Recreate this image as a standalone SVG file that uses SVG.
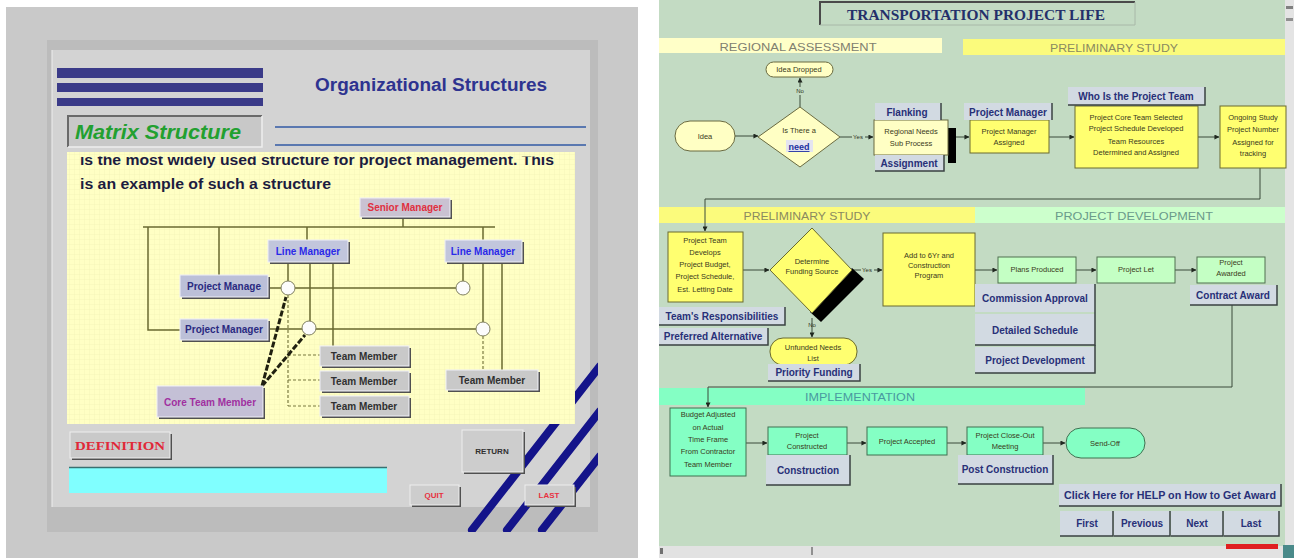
<svg xmlns="http://www.w3.org/2000/svg" width="1294" height="558" viewBox="0 0 1294 558">
<defs>
<style>
text{font-family:"Liberation Sans",Arial,sans-serif}
.serif{font-family:"Liberation Serif","Times New Roman",serif}
.lsh{fill:#505050}
.lbt{stroke:#f0f0f8;stroke-width:1}
.lt{font-size:10px;font-weight:bold;text-anchor:middle}
.oc{fill:none;stroke:#6a6a30;stroke-width:1.5}
.od{fill:none;stroke:#7a7a40;stroke-width:1.2;stroke-dasharray:3 2}
.ck{fill:none;stroke:#202010;stroke-width:3;stroke-dasharray:6 2}
.circ{fill:#fcfcfc;stroke:#808060;stroke-width:1}
.py{fill:#ffffc4;stroke:#6a6a40;stroke-width:1}
.by{fill:#ffff70;stroke:#6a6a30;stroke-width:1}
.pg{fill:#c4ffc4;stroke:#507050;stroke-width:1}
.mg{fill:#84ffc4;stroke:#407050;stroke-width:1}
.nt{font-size:7.5px;fill:#3a3a20;text-anchor:middle}
.btn{fill:#d2dae2}
.bsh{fill:none;stroke:#3a4242;stroke-width:1.5}
.bt{font-size:10px;font-weight:bold;fill:#283078;text-anchor:middle}
.cn{fill:none;stroke:#3a4a3a;stroke-width:1}
.sec{font-size:11px;text-anchor:middle}
.sl{font-size:6px;fill:#303020;text-anchor:middle}
.stripe{stroke:#14148a;stroke-width:8;stroke-linecap:round}
</style>
<marker id="ah" viewBox="0 0 6 6" refX="5.5" refY="3" markerWidth="5" markerHeight="5" orient="auto" markerUnits="userSpaceOnUse">
<path d="M0 0L6 3L0 6z" fill="#202820"/>
</marker>
<pattern id="grid" width="5" height="5" patternUnits="userSpaceOnUse">
<path d="M5 0V5H0" fill="none" stroke="#eeeeb0" stroke-width="0.6"/>
</pattern>
<clipPath id="txtclip"><rect x="67" y="156.5" width="508" height="60"/></clipPath>
<clipPath id="stripeclip"><rect x="440" y="360" width="158" height="172"/></clipPath>
<clipPath id="panelclip"><rect x="67" y="152" width="508" height="272"/></clipPath>
</defs>

<rect x="0" y="0" width="1294" height="558" fill="#ffffff"/>

<!-- ================= LEFT SCREEN ================= -->
<g id="left-screen">
<rect x="6" y="7" width="632" height="551" fill="#c9c9c9"/>
<rect x="47" y="40" width="551" height="492" fill="#bcbcbc"/>
<rect x="52" y="50" width="538" height="457" fill="#d3d3d3"/>
<line x1="52" y1="50" x2="52" y2="507" stroke="#eeeeee" stroke-width="1"/>

<g id="title-bars">
<rect x="57" y="68" width="206" height="10" fill="#3a3a88"/>
<rect x="57" y="83" width="206" height="9" fill="#3a3a88"/>
<rect x="57" y="98" width="206" height="8" fill="#3a3a88"/>
</g>
<text x="315" y="91" font-size="18" font-weight="bold" fill="#2e3390" textLength="232" lengthAdjust="spacingAndGlyphs">Organizational Structures</text>
<line x1="275" y1="127" x2="586" y2="127" stroke="#5a78b0" stroke-width="2"/>
<line x1="275" y1="145" x2="586" y2="145" stroke="#5a78b0" stroke-width="2"/>

<g id="matrix-structure">
<rect x="68" y="116" width="194" height="31" fill="#c8c8c8"/>
<path d="M68 147V116H262" fill="none" stroke="#6a6a6a" stroke-width="2"/>
<path d="M262 116V147H68" fill="none" stroke="#eeeeee" stroke-width="1.5"/>
<text x="75" y="139" font-size="21" font-weight="bold" font-style="italic" fill="#22a030" textLength="166" lengthAdjust="spacingAndGlyphs">Matrix Structure</text>
</g>

<!-- diagonal stripes -->
<g id="stripes" clip-path="url(#stripeclip)">
<line class="stripe" x1="472" y1="530" x2="600" y2="366"/>
<line class="stripe" x1="507" y1="530" x2="600" y2="411"/>
<line class="stripe" x1="542" y1="530" x2="600" y2="456"/>
</g>

<g id="content-panel">
<rect x="67" y="152" width="508" height="272" fill="#ffffc4"/>
<rect x="67" y="152" width="508" height="272" fill="url(#grid)"/>
<g clip-path="url(#txtclip)">
<text x="80" y="165" font-size="14.5" font-weight="bold" fill="#1c1c40" textLength="474" lengthAdjust="spacingAndGlyphs">is the most widely used structure for project management. This</text>
<text x="80" y="189" font-size="14.5" font-weight="bold" fill="#1c1c40" textLength="251" lengthAdjust="spacingAndGlyphs">is an example of such a structure</text>
</g>
</g>

<g clip-path="url(#panelclip)">
<g id="org-connectors">
<path class="oc" d="M403 217V227M143 227H495M148 227V330H180M219 227V275M307 227V240M483 227V322"/>
<path class="oc" d="M268 288H456M268 329H476"/>
<path class="oc" d="M288 262V281M310 262V321M333 262V346M463 262V281M502 262V370"/>
<path class="od" d="M288 295V406M483 336V370M288 355H320M288 380H320M288 406H320"/>
<path class="ck" d="M262 386L286 297M262 386L305 335"/>
<circle class="circ" cx="288" cy="288" r="7"/>
<circle class="circ" cx="463" cy="288" r="7"/>
<circle class="circ" cx="309" cy="328" r="7"/>
<circle class="circ" cx="483" cy="329" r="7"/>
</g>

<g id="n-senior-manager">
<rect class="lsh" x="362" y="200" width="90" height="19"/>
<rect class="lbt" x="360" y="198" width="90" height="19" fill="#cac2d2"/>
<text class="lt" x="405" y="211" fill="#e03040">Senior Manager</text>
</g>
<g id="n-line-manager-1">
<rect class="lsh" x="270" y="242" width="80" height="22"/>
<rect class="lbt" x="268" y="240" width="80" height="22" fill="#c2c6dc"/>
<text class="lt" x="308" y="255" fill="#2a2ae8">Line Manager</text>
</g>
<g id="n-line-manager-2">
<rect class="lsh" x="447" y="242" width="77" height="22"/>
<rect class="lbt" x="445" y="240" width="77" height="22" fill="#c2c6dc"/>
<text class="lt" x="483" y="255" fill="#2a2ae8">Line Manager</text>
</g>
<g id="n-project-manage">
<rect class="lsh" x="182" y="277" width="88" height="22"/>
<rect class="lbt" x="180" y="275" width="88" height="22" fill="#bcc0d8"/>
<text class="lt" x="224" y="290" fill="#2a2a80">Project Manage</text>
</g>
<g id="n-project-manager">
<rect class="lsh" x="182" y="321" width="88" height="21"/>
<rect class="lbt" x="180" y="319" width="88" height="21" fill="#bcc0d8"/>
<text class="lt" x="224" y="333" fill="#2a2a80">Project Manager</text>
</g>
<g id="n-team-member-1">
<rect class="lsh" x="322" y="348" width="89" height="20"/>
<rect class="lbt" x="320" y="346" width="89" height="20" fill="#c9c9c9"/>
<text class="lt" x="364" y="360" fill="#303030">Team Member</text>
</g>
<g id="n-team-member-2">
<rect class="lsh" x="322" y="373" width="89" height="20"/>
<rect class="lbt" x="320" y="371" width="89" height="20" fill="#c9c9c9"/>
<text class="lt" x="364" y="385" fill="#303030">Team Member</text>
</g>
<g id="n-team-member-3">
<rect class="lsh" x="322" y="398" width="89" height="20"/>
<rect class="lbt" x="320" y="396" width="89" height="20" fill="#c9c9c9"/>
<text class="lt" x="364" y="410" fill="#303030">Team Member</text>
</g>
<g id="n-team-member-4">
<rect class="lsh" x="448" y="372" width="92" height="20"/>
<rect class="lbt" x="446" y="370" width="92" height="20" fill="#c9c9c9"/>
<text class="lt" x="492" y="384" fill="#303030">Team Member</text>
</g>
<g id="n-core-team-member">
<rect class="lsh" x="159" y="388" width="106" height="31"/>
<rect class="lbt" x="157" y="386" width="106" height="31" fill="#c4c0d6"/>
<text class="lt" x="210" y="406" fill="#a030a0">Core Team Member</text>
</g>
</g>

<g id="b-definition">
<rect class="lsh" x="72" y="434" width="100" height="26"/>
<rect x="70" y="432" width="100" height="26" fill="#c9c9c9" stroke="#eeeeee" stroke-width="1"/>
<text class="serif" x="120" y="450" font-size="13" font-weight="bold" fill="#e02838" text-anchor="middle" textLength="90" lengthAdjust="spacingAndGlyphs">DEFINITION</text>
</g>
<g id="definition-field">
<rect x="69" y="467" width="318" height="26" fill="#80ffff"/>
<line x1="69" y1="467.5" x2="387" y2="467.5" stroke="#3a7070" stroke-width="1.5"/>
</g>
<g id="b-return">
<rect class="lsh" x="464" y="432" width="61" height="42"/>
<rect x="462" y="430" width="61" height="42" fill="#cdcdcd" stroke="#eeeeee" stroke-width="1"/>
<text x="492" y="454" font-size="8" font-weight="bold" fill="#303030" text-anchor="middle">RETURN</text>
</g>
<g id="b-quit">
<rect class="lsh" x="412" y="487" width="49" height="20"/>
<rect x="410" y="485" width="49" height="20" fill="#cdcdcd" stroke="#eeeeee" stroke-width="1"/>
<text x="434" y="498" font-size="8" font-weight="bold" fill="#e83040" text-anchor="middle">QUIT</text>
</g>
<g id="b-last">
<rect class="lsh" x="527" y="487" width="49" height="20"/>
<rect x="525" y="485" width="49" height="20" fill="#cdcdcd" stroke="#eeeeee" stroke-width="1"/>
<text x="549" y="498" font-size="8" font-weight="bold" fill="#e83040" text-anchor="middle">LAST</text>
</g>
</g>

<!-- ================= RIGHT SCREEN ================= -->
<g id="right-screen">
<rect x="659" y="0" width="626" height="546" fill="#c3dbc3"/>
<rect x="1285" y="0" width="9" height="558" fill="#e4e4e4"/>
<rect x="659" y="546" width="626" height="12" fill="#e2e2e2"/>
<rect x="660" y="548" width="3" height="6" fill="#707070"/>
<rect x="811" y="547" width="2" height="8" fill="#909090"/>
<rect x="1286" y="6" width="7" height="3" fill="#808080"/>
<rect x="1286" y="18" width="7" height="3" fill="#909090"/>
<rect x="1226" y="544" width="52" height="5" fill="#e02020"/>
<rect x="1283" y="545" width="11" height="13" fill="#4a8a8a"/>

<g id="title">
<rect x="820" y="2" width="315" height="23" fill="#c3dbc3"/>
<path d="M820 25V2H1135" fill="none" stroke="#4a4a4a" stroke-width="2"/>
<path d="M1135 2V25H820" fill="none" stroke="#a8b8a8" stroke-width="1"/>
<text class="serif" x="847" y="20" font-size="14" font-weight="bold" fill="#24306a" textLength="258" lengthAdjust="spacingAndGlyphs">TRANSPORTATION PROJECT LIFE</text>
</g>

<g id="sections">
<rect x="659" y="38" width="283" height="15" fill="#ffffc8"/>
<text class="sec" x="798" y="51" fill="#808070" textLength="157" lengthAdjust="spacingAndGlyphs">REGIONAL ASSESSMENT</text>
<rect x="963" y="39" width="322" height="16" fill="#fbfb7c"/>
<text class="sec" x="1114" y="52" fill="#8a8a60" textLength="128" lengthAdjust="spacingAndGlyphs">PRELIMINARY STUDY</text>
<rect x="659" y="207" width="316" height="16" fill="#fbfb7c"/>
<text class="sec" x="807" y="220" fill="#8a8a60" textLength="127" lengthAdjust="spacingAndGlyphs">PRELIMINARY STUDY</text>
<rect x="975" y="207" width="310" height="16" fill="#ccffcc"/>
<text class="sec" x="1134" y="220" fill="#6a9a8a" textLength="158" lengthAdjust="spacingAndGlyphs">PROJECT DEVELOPMENT</text>
<rect x="659" y="388" width="426" height="17" fill="#84ffc4"/>
<text class="sec" x="860" y="401" fill="#4a9aa0" textLength="110" lengthAdjust="spacingAndGlyphs">IMPLEMENTATION</text>
</g>

<g id="connectors">
<path class="cn" marker-end="url(#ah)" d="M735 136H758"/>
<path class="cn" marker-end="url(#ah)" d="M800 107V78"/>
<path class="cn" marker-end="url(#ah)" d="M840 137H873"/>
<path class="cn" marker-end="url(#ah)" d="M956 137H969"/>
<path class="cn" marker-end="url(#ah)" d="M1049 137H1074"/>
<path class="cn" marker-end="url(#ah)" d="M1198 137H1219"/>
<path class="cn" marker-end="url(#ah)" d="M1260 168V199H705V231"/>
<path class="cn" marker-end="url(#ah)" d="M743 270H769"/>
<path class="cn" marker-end="url(#ah)" d="M852 270H882"/>
<path class="cn" marker-end="url(#ah)" d="M812 318V337"/>
<path class="cn" marker-end="url(#ah)" d="M975 270H997"/>
<path class="cn" marker-end="url(#ah)" d="M1076 270H1096"/>
<path class="cn" marker-end="url(#ah)" d="M1175 270H1196"/>
<path class="cn" marker-end="url(#ah)" d="M1232 305V387H708V407"/>
<path class="cn" marker-end="url(#ah)" d="M746 443H767"/>
<path class="cn" marker-end="url(#ah)" d="M847 443H866"/>
<path class="cn" marker-end="url(#ah)" d="M947 443H966"/>
<path class="cn" marker-end="url(#ah)" d="M1043 443H1065"/>
<rect x="794" y="87" width="12" height="8" fill="#c3dbc3"/>
<text class="sl" x="800" y="93">No</text>
<rect x="852" y="133" width="13" height="8" fill="#c3dbc3"/>
<text class="sl" x="858" y="139">Yes</text>
<rect x="861" y="266" width="13" height="8" fill="#c3dbc3"/>
<text class="sl" x="867" y="272">Yes</text>
<text class="sl" x="812" y="327">No</text>
</g>

<g id="n-idea"><rect class="py" x="675" y="121" width="60" height="30" rx="15"/><text class="nt" x="705" y="139">Idea</text></g>
<g id="n-idea-dropped"><rect class="py" x="766" y="62" width="67" height="15" rx="7.5"/><text class="nt" x="799" y="72">Idea Dropped</text></g>
<g id="n-need">
<polygon class="py" points="800,107 840,137 800,167 758,137"/>
<text class="nt" x="799" y="133">Is There a</text>
<rect x="786" y="140" width="27" height="12" fill="#e4e4f0"/>
<text x="799" y="150" font-size="9" font-weight="bold" fill="#2030a0" text-anchor="middle" text-decoration="underline">need</text>
</g>
<g id="n-regional-needs">
<rect x="948" y="128" width="8" height="35" fill="#000000"/>
<rect class="py" x="874" y="120" width="74" height="35"/>
<text class="nt" x="911" y="134">Regional Needs</text>
<text class="nt" x="911" y="146">Sub Process</text>
</g>
<g id="n-pm-assigned">
<rect class="by" x="970" y="120" width="79" height="33"/>
<text class="nt" x="1009" y="134">Project Manager</text>
<text class="nt" x="1009" y="145">Assigned</text>
</g>
<g id="n-core-team">
<rect class="by" x="1075" y="106" width="123" height="62"/>
<text class="nt" x="1136" y="120">Project Core Team Selected</text>
<text class="nt" x="1136" y="131">Project Schedule Developed</text>
<text class="nt" x="1136" y="144">Team Resources</text>
<text class="nt" x="1136" y="155">Determined and Assigned</text>
</g>
<g id="n-ongoing-study">
<rect class="by" x="1220" y="106" width="66" height="62"/>
<text class="nt" x="1253" y="120">Ongoing Study</text>
<text class="nt" x="1253" y="132">Project Number</text>
<text class="nt" x="1253" y="145">Assigned for</text>
<text class="nt" x="1253" y="156">tracking</text>
</g>

<g id="n-project-team">
<rect class="by" x="668" y="232" width="75" height="70"/>
<text class="nt" x="705" y="243">Project Team</text>
<text class="nt" x="705" y="255">Develops</text>
<text class="nt" x="705" y="267">Project Budget,</text>
<text class="nt" x="705" y="279">Project Schedule,</text>
<text class="nt" x="705" y="292">Est. Letting Date</text>
</g>
<g id="n-funding">
<polygon points="852,268 864,279 821,322 810,312" fill="#000000"/>
<polygon class="by" points="812,228 852,270 812,313 770,270"/>
<text class="nt" x="812" y="264">Determine</text>
<text class="nt" x="812" y="274">Funding Source</text>
</g>
<g id="n-unfunded">
<rect class="by" x="770" y="338" width="87" height="27" rx="13"/>
<text class="nt" x="813" y="350">Unfunded Needs</text>
<text class="nt" x="813" y="361">List</text>
</g>
<g id="n-add-program">
<rect class="by" x="883" y="233" width="92" height="73"/>
<text class="nt" x="929" y="258">Add to 6Yr and</text>
<text class="nt" x="929" y="268">Construction</text>
<text class="nt" x="929" y="278">Program</text>
</g>
<g id="n-plans-produced"><rect class="pg" x="998" y="257" width="78" height="26"/><text class="nt" x="1037" y="272">Plans Produced</text></g>
<g id="n-project-let"><rect class="pg" x="1097" y="257" width="78" height="26"/><text class="nt" x="1136" y="272">Project Let</text></g>
<g id="n-project-awarded"><rect class="pg" x="1197" y="257" width="68" height="26"/><text class="nt" x="1231" y="265">Project</text><text class="nt" x="1231" y="276">Awarded</text></g>

<g id="n-budget">
<rect class="mg" x="670" y="408" width="76" height="68"/>
<text class="nt" x="708" y="417">Budget Adjusted</text>
<text class="nt" x="708" y="430">on Actual</text>
<text class="nt" x="708" y="442">Time Frame</text>
<text class="nt" x="708" y="454">From Contractor</text>
<text class="nt" x="708" y="467">Team Member</text>
</g>
<g id="n-constructed"><rect class="mg" x="768" y="427" width="79" height="28"/><text class="nt" x="807" y="438">Project</text><text class="nt" x="807" y="449">Constructed</text></g>
<g id="n-accepted"><rect class="mg" x="867" y="427" width="80" height="28"/><text class="nt" x="907" y="444">Project Accepted</text></g>
<g id="n-closeout"><rect class="mg" x="967" y="427" width="76" height="28"/><text class="nt" x="1005" y="438">Project Close-Out</text><text class="nt" x="1005" y="449">Meeting</text></g>
<g id="n-sendoff"><rect class="mg" x="1066" y="428" width="79" height="30" rx="15"/><text class="nt" x="1105" y="446">Send-Off</text></g>

<!-- link buttons -->
<g id="b-flanking"><rect class="btn" x="875" y="103" width="66" height="17"/><path class="bsh" d="M941 103V120"/><text class="bt" x="907" y="116">Flanking</text></g>
<g id="b-assignment"><rect class="btn" x="875" y="155" width="69" height="16"/><path class="bsh" d="M944 155V171H875"/><text class="bt" x="909" y="167">Assignment</text></g>
<g id="b-project-manager"><rect class="btn" x="964" y="103" width="88" height="17"/><path class="bsh" d="M1052 103V120"/><text class="bt" x="1008" y="116">Project Manager</text></g>
<g id="b-who-team"><rect class="btn" x="1068" y="87" width="137" height="18"/><path class="bsh" d="M1205 87V105H1068"/><text class="bt" x="1136" y="100">Who Is the Project Team</text></g>
<g id="b-team-resp"><rect class="btn" x="659" y="307" width="126" height="18"/><path class="bsh" d="M785 307V325H659"/><text class="bt" x="722" y="320">Team's Responsibilities</text></g>
<g id="b-preferred"><rect class="btn" x="659" y="328" width="109" height="17"/><path class="bsh" d="M768 328V345H659"/><text class="bt" x="713" y="340">Preferred Alternative</text></g>
<g id="b-priority"><rect class="btn" x="768" y="364" width="92" height="17"/><path class="bsh" d="M860 364V381H768"/><text class="bt" x="814" y="376">Priority Funding</text></g>
<g id="b-commission"><rect class="btn" x="975" y="284" width="120" height="28"/><path class="bsh" d="M1095 284V312"/><text class="bt" x="1035" y="302">Commission Approval</text></g>
<g id="b-detailed"><rect class="btn" x="975" y="314" width="120" height="31"/><path class="bsh" d="M1095 312V345H975"/><text class="bt" x="1035" y="334">Detailed Schedule</text></g>
<g id="b-project-dev"><rect class="btn" x="975" y="347" width="120" height="26"/><path class="bsh" d="M1095 345V373H975"/><text class="bt" x="1035" y="364">Project Development</text></g>
<g id="b-contract-award"><rect class="btn" x="1190" y="285" width="87" height="20"/><path class="bsh" d="M1277 285V305H1190"/><text class="bt" x="1233" y="299">Contract Award</text></g>
<g id="b-construction"><rect class="btn" x="766" y="455" width="84" height="30"/><path class="bsh" d="M850 455V485H766"/><text class="bt" x="808" y="474">Construction</text></g>
<g id="b-post-construction"><rect class="btn" x="958" y="455" width="95" height="29"/><path class="bsh" d="M1053 455V484H958"/><text class="bt" x="1005" y="473">Post Construction</text></g>
<g id="b-help"><rect class="btn" x="1059" y="484" width="222" height="22"/><path class="bsh" d="M1281 484V506H1059"/><text class="bt" x="1170" y="499" textLength="212" lengthAdjust="spacingAndGlyphs">Click Here for HELP on How to Get Award</text></g>
<g id="b-first"><rect class="btn" x="1060" y="511" width="53" height="25"/><path class="bsh" d="M1113 511V536H1060"/><text class="bt" x="1087" y="527">First</text></g>
<g id="b-previous"><rect class="btn" x="1114" y="511" width="56" height="25"/><path class="bsh" d="M1170 511V536H1114"/><text class="bt" x="1142" y="527">Previous</text></g>
<g id="b-next"><rect class="btn" x="1171" y="511" width="52" height="25"/><path class="bsh" d="M1223 511V536H1171"/><text class="bt" x="1197" y="527">Next</text></g>
<g id="b-last2"><rect class="btn" x="1224" y="511" width="55" height="25"/><path class="bsh" d="M1279 511V536H1224"/><text class="bt" x="1251" y="527">Last</text></g>
</g>
</svg>
